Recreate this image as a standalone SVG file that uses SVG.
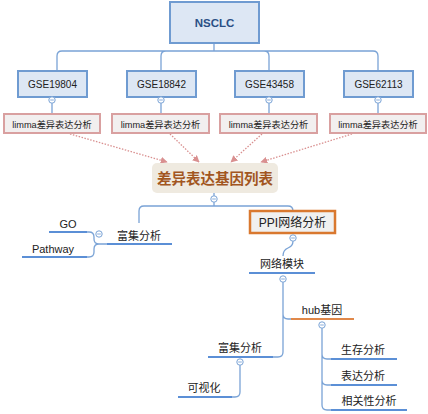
<svg xmlns="http://www.w3.org/2000/svg" width="428" height="414" viewBox="0 0 428 414">
<style>
.t{font-family:"Liberation Sans","Noto Sans CJK SC",sans-serif;fill:#222;text-anchor:middle}
.c{fill:none;stroke:#7aa3d6;stroke-width:1.3}
.u{fill:none;stroke:#5b8fd6;stroke-width:2.2}
.gse{fill:#dde7f4;stroke:#6f9bd1;stroke-width:2}
.lim{fill:#f2efef;stroke:#d9a0a0;stroke-width:2}
.d{fill:none;stroke:#d99090;stroke-width:1.3;stroke-dasharray:1.5 1.5}
.col{fill:#fff;stroke:#7aa3d6;stroke-width:1}
</style>
<defs>
<marker id="ah" viewBox="0 0 10 10" refX="9" refY="5" markerWidth="7" markerHeight="7" markerUnits="userSpaceOnUse" orient="auto">
<path d="M0,0 L10,5 L0,10 z" fill="#d99090"/>
</marker>
<g id="cm"><circle r="3.2" class="col"/><line x1="-1.8" y1="0" x2="1.8" y2="0" stroke="#7aa3d6" stroke-width="0.9"/></g>
</defs>
<g id="connectors">
<path class="c" d="M214,43 V51 M57,71 V56 Q57,51 62,51 H373 Q378,51 378,56 V71 M161,71 V56 Q161,51 166,51 M269,71 V56 Q269,51 264,51"/>
<path class="c" d="M52,97 V113 M161,97 V113 M269,97 V113 M378,97 V113"/>
<path class="d" d="M70,134 L167,162" marker-end="url(#ah)"/>
<path class="d" d="M170,134 L199,162" marker-end="url(#ah)"/>
<path class="d" d="M262,134 L231,162" marker-end="url(#ah)"/>
<path class="d" d="M352,134 L261,162" marker-end="url(#ah)"/>
<path class="c" d="M214,193 V206 M139,223 V211 Q139,206 144,206 H288 Q293,206 293,211"/>
<path class="c" d="M107,244 H99 Q94,244 94,239 V237 Q94,232 89,232 H87 M99,244 Q94,244 94,249 V252 Q94,257 89,257 H87"/>
<path class="c" d="M293,241 Q293,246 288,248 Q283,250 283,256"/>
<path class="c" d="M283,282 V352 Q283,357 278,357 H273 M283,314 Q283,319 288,319 H291"/>
<path class="c" d="M322,328 V405 Q322,410 327,410 H331 M322,354 Q322,359 327,359 H331 M322,380 Q322,385 327,385 H331"/>
<path class="c" d="M240,365 V392 Q240,397 235,397 H232"/>
</g>
<g id="n-nsclc"><rect x="170" y="2" width="89" height="41" class="gse" stroke-width="2.5"/><text x="214.5" y="27" class="t" font-size="11.5" font-weight="bold" fill="#2a4f85" style="fill:#2a4f85">NSCLC</text></g>
<g id="n-gse1"><rect x="18" y="71" width="69" height="26" class="gse"/><text x="52.5" y="88" class="t" font-size="10">GSE19804</text><use href="#cm" x="52" y="100"/></g>
<g id="n-gse2"><rect x="127" y="71" width="69" height="26" class="gse"/><text x="161.5" y="88" class="t" font-size="10">GSE18842</text><use href="#cm" x="161" y="100"/></g>
<g id="n-gse3"><rect x="235" y="71" width="69" height="26" class="gse"/><text x="269.5" y="88" class="t" font-size="10">GSE43458</text><use href="#cm" x="269" y="100"/></g>
<g id="n-gse4"><rect x="344" y="71" width="69" height="26" class="gse"/><text x="378.5" y="88" class="t" font-size="10">GSE62113</text><use href="#cm" x="378" y="100"/></g>
<g id="n-lim1"><rect x="4" y="114" width="96" height="19" class="lim"/><text x="52" y="127.5" class="t" font-size="9.2">limma差异表达分析</text></g>
<g id="n-lim2"><rect x="112" y="114" width="97" height="19" class="lim"/><text x="160.5" y="127.5" class="t" font-size="9.2">limma差异表达分析</text></g>
<g id="n-lim3"><rect x="220" y="114" width="97" height="19" class="lim"/><text x="268.5" y="127.5" class="t" font-size="9.2">limma差异表达分析</text></g>
<g id="n-lim4"><rect x="330" y="114" width="96" height="19" class="lim"/><text x="378" y="127.5" class="t" font-size="9.2">limma差异表达分析</text></g>
<g id="n-deg"><rect x="152" y="163" width="126" height="30" rx="5" fill="#efeae0"/><text x="215" y="184" class="t" font-size="14.5" font-weight="bold" style="fill:#a2561f">差异表达基因列表</text><use href="#cm" x="214" y="199"/></g>
<g id="n-enr1"><text x="139" y="240" class="t" font-size="11">富集分析</text><line x1="107" y1="244" x2="172" y2="244" class="u"/><use href="#cm" x="99" y="234"/></g>
<g id="n-go"><text x="68" y="228" class="t" font-size="11">GO</text><line x1="49" y1="232" x2="87" y2="232" class="u"/></g>
<g id="n-path"><text x="53" y="253" class="t" font-size="11">Pathway</text><line x1="22" y1="257" x2="87" y2="257" class="u"/></g>
<g id="n-ppi"><rect x="250" y="211" width="85" height="22" fill="#f0f0f0" stroke="#d9782f" stroke-width="2.5"/><text x="292.5" y="227" class="t" font-size="12">PPI网络分析</text><use href="#cm" x="293" y="238"/></g>
<g id="n-mod"><text x="282" y="268" class="t" font-size="11">网络模块</text><line x1="249" y1="273" x2="315" y2="273" class="u"/><use href="#cm" x="283" y="279"/></g>
<g id="n-hub"><text x="322" y="314" class="t" font-size="11">hub基因</text><line x1="291" y1="319" x2="354" y2="319" stroke="#e0884a" stroke-width="2.2"/><use href="#cm" x="322" y="325"/></g>
<g id="n-surv"><text x="363" y="354" class="t" font-size="11">生存分析</text><line x1="331" y1="359" x2="397" y2="359" class="u"/></g>
<g id="n-expr"><text x="363" y="380" class="t" font-size="11">表达分析</text><line x1="331" y1="385" x2="397" y2="385" class="u"/></g>
<g id="n-corr"><text x="369" y="405" class="t" font-size="11">相关性分析</text><line x1="331" y1="410" x2="407" y2="410" class="u"/></g>
<g id="n-enr2"><text x="240" y="352" class="t" font-size="11">富集分析</text><line x1="208" y1="357" x2="273" y2="357" class="u"/><use href="#cm" x="240" y="362"/></g>
<g id="n-vis"><text x="204" y="392" class="t" font-size="11">可视化</text><line x1="178" y1="397" x2="232" y2="397" class="u"/></g>
</svg>
